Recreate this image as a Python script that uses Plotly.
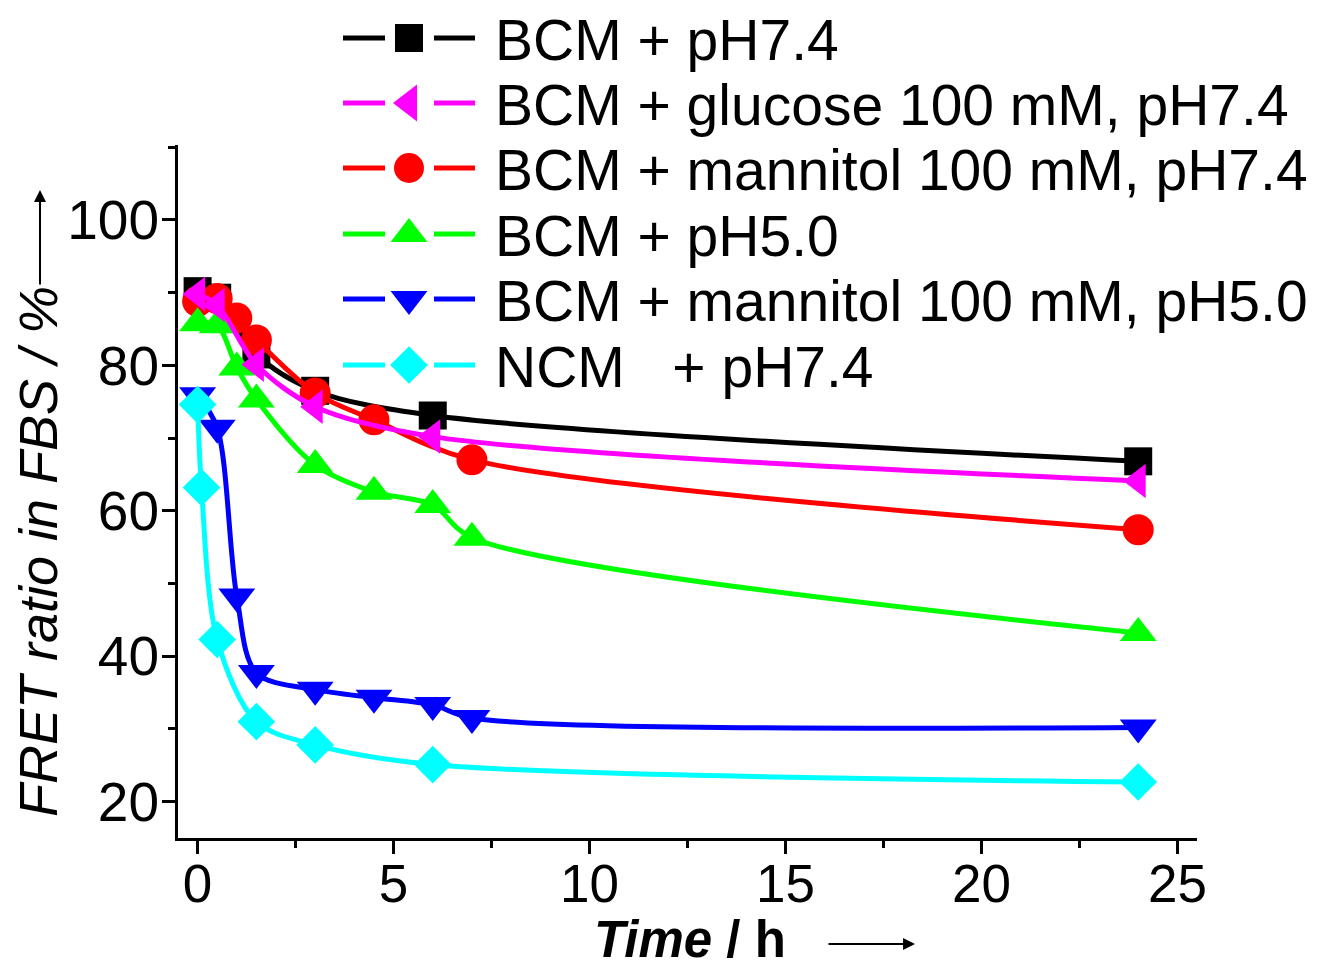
import plotly.graph_objects as go

# ---------------- data ----------------
series_names = [
    "BCM + pH7.4",
    "BCM + glucose 100 mM, pH7.4",
    "BCM + mannitol 100 mM, pH7.4",
    "BCM + pH5.0",
    "BCM + mannitol 100 mM, pH5.0",
    "NCM\u00a0\u00a0\u00a0+ pH7.4",
]

bcm74_t = [0, 0.5, 1.5, 3, 6, 24]
bcm74_v = [90.2, 89.3, 81.5, 76.5, 73.1, 66.8]

glu74_t = [0, 0.5, 1.5, 3, 6, 24]
glu74_v = [89.8, 88.3, 80.1, 74.3, 70.2, 64.1]

man74_t = [0, 0.5, 1, 1.5, 3, 4.5, 7, 24]
man74_v = [88.8, 89.2, 86.5, 83.5, 76.2, 72.5, 67.0, 57.4]

bcm50_t = [0, 0.5, 1, 1.5, 3, 4.5, 6, 7, 24]
bcm50_v = [85.8, 85.5, 79.7, 75.3, 66.3, 62.6, 60.8, 56.3, 43.2]

man50_t = [0, 0.5, 1, 1.5, 3, 4.5, 6, 7, 24]
man50_v = [75.9, 71.4, 48.2, 37.7, 35.4, 34.3, 33.3, 31.5, 30.2]

ncm74_t = [0, 0.1, 0.5, 1.5, 3, 6, 24]
ncm74_v = [74.6, 63.2, 42.3, 31.0, 27.8, 25.1, 22.7]

x_ticks = [0, 5, 10, 15, 20, 25]
y_ticks = [20, 40, 60, 80, 100]

# ---------------- styling ----------------
colors = ["#000000", "#FF00FF", "#FF0000", "#00FF00", "#0000FF", "#00FFFF"]
symbols = ["square", "triangle-left", "circle", "triangle-up", "triangle-down", "diamond"]
msizes = [28, 30, 31, 32, 32, 29]
FONT = "Liberation Sans, Arial, sans-serif"

OFF = 8  # page body margin of the html page
W, H = 1326, 968
L, T = 178 - OFF, 145 - OFF
PW, PH = 1019, 693
R, B = W - L - PW, H - T - PH


def pp(px, py):
    """screen pixel -> paper fraction"""
    return (px - OFF - L) / PW, (T + PH - (py - OFF)) / PH


fig = go.Figure()

data = [
    (bcm74_t, bcm74_v),
    (glu74_t, glu74_v),
    (man74_t, man74_v),
    (bcm50_t, bcm50_v),
    (man50_t, man50_v),
    (ncm74_t, ncm74_v),
]
order = [0, 2, 3, 4, 5, 1]
for i in order:
    t, v = data[i]
    fig.add_trace(go.Scatter(
        x=t, y=v, mode="lines+markers", name=series_names[i],
        line=dict(color=colors[i], width=5, shape="spline", smoothing=0.9),
        marker=dict(symbol=symbols[i], size=msizes[i], color=colors[i],
                    line=dict(width=0)),
        showlegend=False,
    ))

# ---------------- custom legend (Origin style) ----------------
shapes = []
annotations = []
row_y = [38, 103, 168, 234, 299, 365]
for i, name in enumerate(series_names):
    cy = row_y[i]
    c = colors[i]
    for (xa, xb) in [(343, 385), (434, 475)]:
        x0, y0 = pp(xa, cy)
        x1, y1 = pp(xb, cy)
        shapes.append(dict(type="line", xref="paper", yref="paper",
                           x0=x0, y0=y0, x1=x1, y1=y1,
                           line=dict(color=c, width=5)))
    cx = 409
    s = 1.0
    sym = symbols[i]
    if sym == "circle":
        r = 15 * s
        x0, y0 = pp(cx - r, cy + r)
        x1, y1 = pp(cx + r, cy - r)
        shapes.append(dict(type="circle", xref="paper", yref="paper",
                           x0=x0, y0=y0, x1=x1, y1=y1,
                           fillcolor=c, line=dict(width=0)))
        continue
    if sym == "square":
        h = 14 * s
        pts = [(-h, -h), (h, -h), (h, h), (-h, h)]
    elif sym == "triangle-left":
        r = 16 * s
        rt, r2 = r * 2 / 3 ** 0.5, r / 2
        pts = [(r2, -rt), (r2, rt), (-r, 0)]
    elif sym == "triangle-up":
        r = 16 * s
        rt, r2 = r * 2 / 3 ** 0.5, r / 2
        pts = [(-rt, r2), (rt, r2), (0, -r)]
    elif sym == "triangle-down":
        r = 16 * s
        rt, r2 = r * 2 / 3 ** 0.5, r / 2
        pts = [(-rt, -r2), (rt, -r2), (0, r)]
    else:  # diamond
        rd = 14.5 * 1.3 * s
        pts = [(rd, 0), (0, rd), (-rd, 0), (0, -rd)]
    path = ""
    for k, (dx, dy) in enumerate(pts):
        px_, py_ = pp(cx + dx, cy + dy)
        path += ("M" if k == 0 else "L") + f"{px_:.5f},{py_:.5f}"
    path += "Z"
    shapes.append(dict(type="path", xref="paper", yref="paper", path=path,
                       fillcolor=c, line=dict(width=0)))

for i, name in enumerate(series_names):
    x0, y0 = pp(493, row_y[i] + 2)
    annotations.append(dict(text=name, xref="paper", yref="paper", x=x0, y=y0,
                            xanchor="left", yanchor="middle", showarrow=False,
                            font=dict(family=FONT, size=57, color="black")))

# ---------------- axis titles with arrows ----------------
tx, ty = pp(38, 552)
annotations.append(dict(text="<i>FRET ratio in FBS / %</i>", xref="paper", yref="paper",
                        x=tx, y=ty, textangle=-90, showarrow=False,
                        xanchor="center", yanchor="middle",
                        font=dict(family=FONT, size=54, color="black")))
hx, hy = pp(40, 190)
annotations.append(dict(text="", xref="paper", yref="paper", x=hx, y=hy,
                        ax=0, ay=96, showarrow=True, arrowhead=2, arrowsize=1.2,
                        arrowwidth=2, arrowcolor="black"))

tx, ty = pp(690, 939)
annotations.append(dict(text="<b><i>Time</i> / h</b>", xref="paper", yref="paper",
                        x=tx, y=ty, showarrow=False, xanchor="center", yanchor="middle",
                        font=dict(family=FONT, size=51, color="black")))
hx, hy = pp(915, 944)
annotations.append(dict(text="", xref="paper", yref="paper", x=hx, y=hy,
                        ax=-88, ay=0, showarrow=True, arrowhead=2, arrowsize=1.2,
                        arrowwidth=2, arrowcolor="black"))

axis_common = dict(
    showline=True, linewidth=3, linecolor="black", showgrid=False, zeroline=False,
    ticks="outside", ticklen=13, tickwidth=3, tickcolor="black", mirror=False,
)
fig.update_xaxes(range=[-0.5, 25.5], tickmode="array", tickvals=x_ticks,
                 ticktext=[str(v) for v in x_ticks], ticklabelstandoff=-16,
                 tickfont=dict(family=FONT, size=53, color="black"),
                 minor=dict(ticks="outside", dtick=2.5, tick0=0, ticklen=7,
                            tickwidth=3, tickcolor="black"),
                 **axis_common)
fig.update_yaxes(range=[15, 110.3], tickmode="array", tickvals=y_ticks,
                 ticktext=[str(v) for v in y_ticks], ticklabelstandoff=-8,
                 tickfont=dict(family=FONT, size=55, color="black"),
                 minor=dict(ticks="outside", dtick=10, tick0=0, ticklen=7,
                            tickwidth=3, tickcolor="black"),
                 **axis_common)

fig.update_layout(
    width=W, height=H,
    margin=dict(l=L, r=R, t=T, b=B, autoexpand=False),
    plot_bgcolor="white", paper_bgcolor="white",
    showlegend=False,
    shapes=shapes, annotations=annotations,
    font=dict(family=FONT, color="black"),
)

fig.write_html("out.html")
